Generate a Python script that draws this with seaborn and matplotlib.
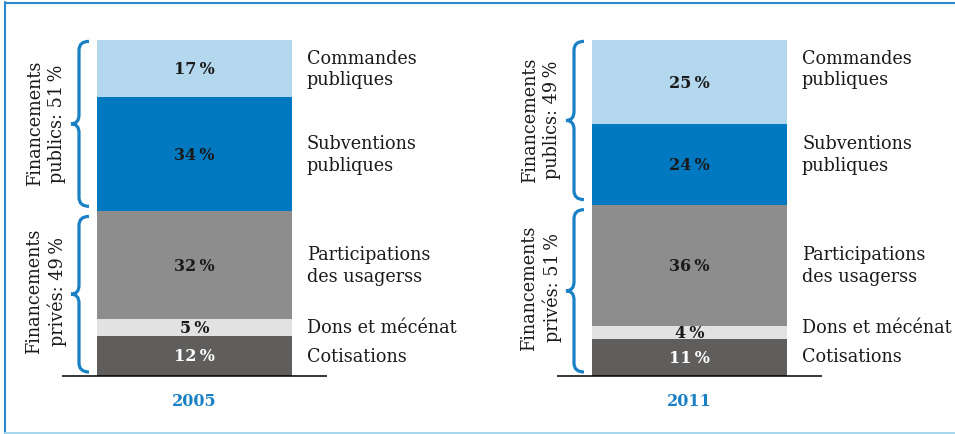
import pandas as pd
import seaborn as sns
import matplotlib.pyplot as plt
from matplotlib.path import Path
from matplotlib.patches import PathPatch
from matplotlib.lines import Line2D

# data (bottom -> top of each bar)
years = ["2005", "2011"]
categories = ["Cotisations", "Dons et mécénat", "Participations\ndes usagerss",
              "Subventions\npubliques", "Commandes\npubliques"]
values_2005 = [12, 5, 32, 34, 17]
values_2011 = [11, 4, 36, 24, 25]
private_share = [49, 51]
public_share = [51, 49]

colors = ["#5f5e5c", "#e2e2e2", "#8d8d8d", "#0079c1", "#b3d7ed"]
text_colors = ["white", "#1a1a1a", "#1a1a1a", "#1a1a1a", "#1a1a1a"]
BLUE = "#1a80c6"

df = pd.DataFrame({
    "year": [y for y in years for _ in categories],
    "category": categories * len(years),
    "value": values_2005 + values_2011,
})
df["top"] = df.groupby("year")["value"].cumsum()
df["mid"] = df["top"] - df["value"] / 2

sns.set_style("white")
plt.rcParams["font.family"] = ["DejaVu Serif"]

W, H = 955, 435
fig = plt.figure(figsize=(W / 100, H / 100), dpi=100)

BAR_W = 195  # px
PX_Y = 3.36  # px per percent


def px(dx):
    # horizontal pixel offset -> data units
    return dx / BAR_W


def brace(ax, y_top, y_bot):
    xt, xs, xe = -0.5 + px(-26), -0.5 + px(-18), -0.5 + px(-8)
    r = 9 / PX_Y
    yc = (y_top + y_bot) / 2
    verts = [(xe, y_top), (xs, y_top), (xs, y_top - r),
             (xs, yc + r), (xs, yc), (xt, yc),
             (xs, yc), (xs, yc - r),
             (xs, y_bot + r), (xs, y_bot), (xe, y_bot)]
    codes = [Path.MOVETO, Path.CURVE3, Path.CURVE3,
             Path.LINETO, Path.CURVE3, Path.CURVE3,
             Path.CURVE3, Path.CURVE3,
             Path.LINETO, Path.CURVE3, Path.CURVE3]
    ax.add_patch(PathPatch(Path(verts, codes), fill=False, edgecolor=BLUE,
                           lw=2.3, capstyle="butt", clip_on=False))


label_mid = df[df["year"] == years[0]]["mid"].tolist()
bar_left = [97, 592]

for i, year in enumerate(years):
    ax = fig.add_axes([bar_left[i] / W, (H - 377) / H, BAR_W / W, 336 / H])
    sub = df[df["year"] == year].reset_index(drop=True)
    # stacked bars: draw cumulative totals from the tallest down
    for j in reversed(range(len(sub))):
        sns.barplot(x=[year], y=[sub.loc[j, "top"]], color=colors[j],
                    saturation=1, width=1, linewidth=0, ax=ax)
    ax.set_xlim(-0.5, 0.5)
    ax.set_ylim(0, 100)
    ax.axis("off")

    for j in range(len(sub)):
        ax.text(0, sub.loc[j, "mid"], f"{sub.loc[j, 'value']}\u2009%",
                ha="center", va="center", fontsize=11.5, fontweight="bold",
                color=text_colors[j])
        ax.text(0.5 + px(15), label_mid[j], categories[j], ha="left",
                va="center", fontsize=12.7, color="#1a1a1a", linespacing=1.25)

    ax.plot([-0.5 + px(-35), 0.5 + px(35)], [0, 0], color="black", lw=1.1,
            clip_on=False, solid_capstyle="butt")
    ax.text(0, -25 / PX_Y, year, ha="center", va="center", fontsize=11.5,
            fontweight="bold", color=BLUE)

    split = private_share[i]
    brace(ax, 99.6, split + 1.5)
    brace(ax, split - 1.5, 1.2)
    ax.text(-0.5 + px(-51), (100 + split) / 2 + 1,
            f"Financements\npublics: {public_share[i]}\u2009%", rotation=90,
            ha="center", va="center", fontsize=12.7, color="#1a1a1a",
            linespacing=1.3)
    ax.text(-0.5 + px(-51), split / 2 + 1,
            f"Financements\nprivés: {private_share[i]}\u2009%", rotation=90,
            ha="center", va="center", fontsize=12.7, color="#1a1a1a",
            linespacing=1.3)

# frame
fig.add_artist(Line2D([5 / W, 5 / W], [0, 1 - 3 / H], color="#2a88cc", lw=1.5))
fig.add_artist(Line2D([5 / W, 1], [1 - 3.5 / H, 1 - 3.5 / H], color="#2a88cc", lw=1.5))
fig.add_artist(Line2D([5 / W, 1], [1.5 / H, 1.5 / H], color="#a6d5ee", lw=1.5))

fig.savefig("out.png", dpi=100)
